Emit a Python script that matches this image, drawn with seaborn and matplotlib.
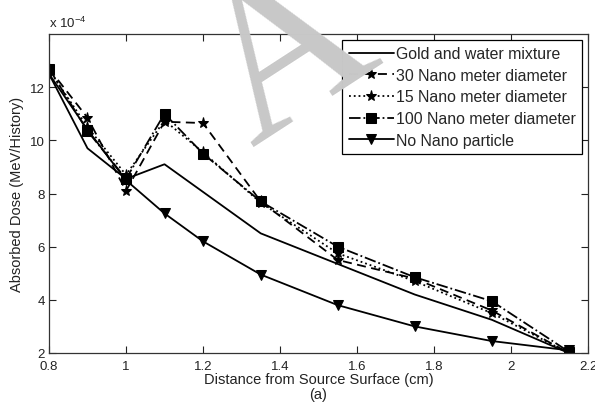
import matplotlib
matplotlib.use("Agg")
import matplotlib.pyplot as plt
import seaborn as sns
import pandas as pd

# ---------------- data (values in units of 1e-4 MeV/History) ----------------
x_gold = [0.8, 0.9, 1.0, 1.1, 1.35, 1.55, 1.75, 1.95, 2.15]
y_gold = [12.5, 9.7, 8.55, 9.1, 6.5, 5.35, 4.2, 3.25, 2.0]

x_30 = [0.8, 0.9, 1.0, 1.1, 1.2, 1.35, 1.55, 1.75, 1.95, 2.15]
y_30 = [12.7, 10.85, 8.1, 10.7, 10.65, 7.7, 5.5, 4.8, 3.6, 2.0]

x_15 = [0.8, 0.9, 1.0, 1.1, 1.2, 1.35, 1.55, 1.75, 1.95, 2.15]
y_15 = [12.65, 10.5, 8.7, 10.75, 9.55, 7.65, 5.75, 4.7, 3.5, 2.0]

x_100 = [0.8, 0.9, 1.0, 1.1, 1.2, 1.35, 1.55, 1.75, 1.95, 2.15]
y_100 = [12.7, 10.35, 8.55, 11.0, 9.5, 7.7, 6.0, 4.85, 3.95, 2.05]

x_none = [0.8, 0.9, 1.0, 1.1, 1.2, 1.35, 1.55, 1.75, 1.95, 2.15]
y_none = [12.5, 10.4, 8.5, 7.25, 6.2, 4.95, 3.8, 3.0, 2.45, 2.1]

labels = ["Gold and water mixture", "30 Nano meter diameter",
          "15 Nano meter diameter", "100 Nano meter diameter",
          "No Nano particle"]
x_ticks = [0.8, 1.0, 1.2, 1.4, 1.6, 1.8, 2.0, 2.2]
x_ticklabels = ["0.8", "1", "1.2", "1.4", "1.6", "1.8", "2", "2.2"]
y_ticks = [2, 4, 6, 8, 10, 12]

# ---------------- styling ----------------
sns.set_style("ticks")
plt.rcParams["font.family"] = ["Liberation Sans", "DejaVu Sans"]
plt.rcParams["mathtext.fontset"] = "custom"
plt.rcParams["mathtext.rm"] = "Liberation Sans"

fig = plt.figure(figsize=(5.95, 4.10), dpi=100)
ax = fig.add_axes([49 / 595, 1 - 354 / 410, (588 - 49) / 595, (354 - 35) / 410])

series = [
    (x_gold, y_gold, "-", None, 0),
    (x_30, y_30, (0, (5, 3)), "*", 8),
    (x_15, y_15, ":", "*", 8),
    (x_100, y_100, "-.", "s", 7),
    (x_none, y_none, "-", "v", 7.5),
]

for (xs, ys, ls, mk, ms), lab in zip(series, labels):
    df = pd.DataFrame({"x": xs, "y": ys})
    kw = dict(color="black", linewidth=1.3, linestyle=ls, label=lab)
    if mk is not None:
        kw.update(marker=mk, markersize=ms, markerfacecolor="black",
                  markeredgecolor="black")
    sns.lineplot(data=df, x="x", y="y", ax=ax, sort=False, estimator=None, **kw)

ax.set_xlim(0.8, 2.2)
ax.set_ylim(2, 14)
ax.set_xticks(x_ticks)
ax.set_xticklabels(x_ticklabels)
ax.set_yticks(y_ticks)
ax.tick_params(direction="in", length=5, width=0.8, labelsize=9.5,
               top=True, right=True, colors="#222222")
ax.tick_params(axis="x", pad=5)
ax.tick_params(axis="y", pad=3)
for sp in ax.spines.values():
    sp.set_linewidth(0.9)
    sp.set_color("#333333")
    sp.set_visible(True)

ax.set_xlabel("Distance from Source Surface (cm)\n(a)", fontsize=10.5,
              labelpad=0, color="#222222", linespacing=1.1)
ax.set_ylabel("Absorbed Dose (MeV/History)", fontsize=10.5, labelpad=4,
              color="#222222")
ax.text(0.0, 1.012, r"x 10$^{-4}$", transform=ax.transAxes, fontsize=9.5,
        ha="left", va="bottom", color="#222222")

leg = ax.legend(loc="upper right", fontsize=11.4, frameon=True, fancybox=False,
                framealpha=1, edgecolor="black", handlelength=2.85,
                handletextpad=0.13, labelspacing=0.42, borderpad=0.42,
                borderaxespad=0.35)
leg.get_frame().set_linewidth(0.9)

# grey watermark letter present in the source image
fig.text(290 / 595, 1 - 60 / 410, "A", fontsize=158, family="Liberation Serif",
         color="#c8c8c8", rotation=33, ha="center", va="center", zorder=10)

fig.savefig("out.png", dpi=100)
